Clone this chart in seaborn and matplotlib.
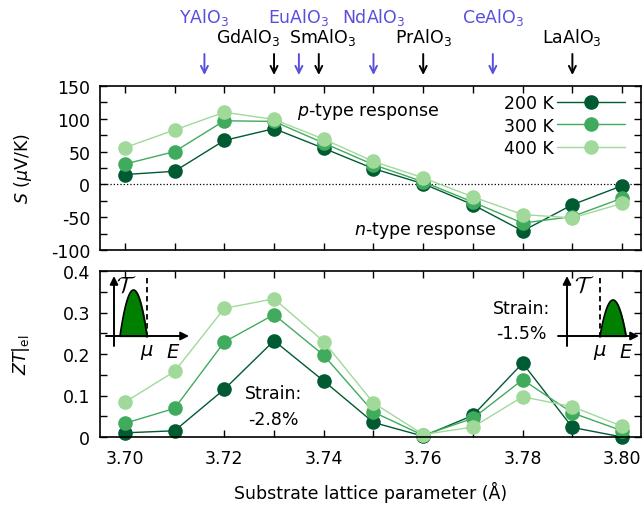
import numpy as np
import pandas as pd
import matplotlib
matplotlib.use("Agg")
import matplotlib.pyplot as plt
from matplotlib.ticker import MultipleLocator, FuncFormatter
import seaborn as sns

# substrate lattice parameter (Å)
lattice = [3.70, 3.71, 3.72, 3.73, 3.74, 3.75, 3.76, 3.77, 3.78, 3.79, 3.80]
temps = ['200 K', '300 K', '400 K']

# Seebeck coefficient (uV/K)
S_200 = [15, 20, 67, 85, 55, 24, 1, -31, -71, -31, -2]
S_300 = [31, 50, 97, 96, 63, 30, 4, -27, -59, -49, -21]
S_400 = [56, 83, 110, 99, 69, 35, 10, -19, -46, -51, -29]

# electronic figure of merit
ZT_200 = [0.010, 0.015, 0.115, 0.232, 0.135, 0.035, 0.002, 0.052, 0.178, 0.023, 0.0]
ZT_300 = [0.033, 0.069, 0.229, 0.295, 0.197, 0.060, 0.004, 0.045, 0.138, 0.058, 0.015]
ZT_400 = [0.084, 0.158, 0.310, 0.333, 0.230, 0.082, 0.006, 0.024, 0.097, 0.073, 0.026]

# substrates marked above the plot
blue_names = ['YAlO$_3$', 'EuAlO$_3$', 'NdAlO$_3$', 'CeAlO$_3$']
blue_a = [3.716, 3.735, 3.750, 3.774]
black_names = ['GdAlO$_3$', 'SmAlO$_3$', 'PrAlO$_3$', 'LaAlO$_3$']
black_a = [3.730, 3.739, 3.760, 3.790]
black_label_shift = [-0.0052, 0.0008, 0.0, -0.0002]

colors = ['#005a32', '#41ab5d', '#a1d99b']
blue = '#5a4fdc'

df = pd.DataFrame({
    'a': lattice * 3,
    'T': [t for t in temps for _ in lattice],
    'S': S_200 + S_300 + S_400,
    'ZT': ZT_200 + ZT_300 + ZT_400,
})

sns.set_style('ticks')
plt.rcParams['font.family'] = ['DejaVu Sans']
plt.rcParams['font.size'] = 12.5
plt.rcParams['mathtext.fontset'] = 'dejavusans'
plt.rcParams['axes.unicode_minus'] = False
for k in ('text.color', 'axes.labelcolor', 'xtick.color', 'ytick.color', 'axes.edgecolor'):
    plt.rcParams[k] = 'black'

fig = plt.figure(figsize=(6.44, 5.10), dpi=100)
W, H = 644, 510
ax1 = fig.add_axes([100 / W, 1 - 251 / H, 541 / W, 164 / H])
ax2 = fig.add_axes([100 / W, 1 - 438 / H, 541 / W, 166 / H])

line_kw = dict(marker='o', markersize=10.5, markeredgewidth=0, lw=1.0, clip_on=False, legend=False)
sns.lineplot(data=df, x='a', y='S', hue='T', palette=colors, ax=ax1, **line_kw)
sns.lineplot(data=df, x='a', y='ZT', hue='T', palette=colors, ax=ax2, **line_kw)

ax1.legend(ax1.lines[:3], temps, loc='upper right', bbox_to_anchor=(0.97, 0.95),
           markerfirst=False, frameon=False, handlelength=3.9, handletextpad=0.2,
           labelspacing=0.25, borderpad=0, borderaxespad=0, fontsize=12.5)
ax1.axhline(0, color='k', ls=':', lw=0.9, zorder=0)

for ax in (ax1, ax2):
    ax.set_xlim(3.695, 3.8038)
    ax.xaxis.set_major_locator(MultipleLocator(0.02))
    ax.xaxis.set_minor_locator(MultipleLocator(0.01))
    ax.tick_params(which='both', direction='in', top=True, right=True, length=5, width=1)
    ax.tick_params(axis='x', pad=9)
    ax.tick_params(axis='y', pad=7)
    for sp in ax.spines.values():
        sp.set_linewidth(1.2)

ax1.set_ylim(-100, 150)
ax1.yaxis.set_major_locator(MultipleLocator(50))
ax1.yaxis.set_minor_locator(MultipleLocator(25))
ax1.tick_params(axis='x', labelbottom=False)
ax1.set_xlabel('')
ax1.set_ylabel('$S$ ($\\mu$V/K)')
ax1.yaxis.set_label_coords(-0.122, 0.5)

ax2.set_ylim(0, 0.4)
ax2.yaxis.set_major_locator(MultipleLocator(0.1))
ax2.yaxis.set_minor_locator(MultipleLocator(0.05))
ax2.yaxis.set_major_formatter(FuncFormatter(lambda v, p: '0' if abs(v) < 1e-9 else f'{v:.1f}'))
ax2.xaxis.set_major_formatter(FuncFormatter(lambda v, p: f'{v:.2f}'))
ax2.set_ylabel('$ZT|_{\\rm el}$')
ax2.yaxis.set_label_coords(-0.125, 0.5)
ax2.set_xlabel('Substrate lattice parameter (Å)')
ax2.xaxis.set_label_coords(0.5, -0.265)

ax1.text(3.749, 113, '$p$-type response', ha='center', va='center')
ax1.text(3.7604, -68, '$n$-type response', ha='center', va='center')
ax2.text(3.7299, 0.107, 'Strain:', ha='center', va='center')
ax2.text(3.7299, 0.043, '-2.8%', ha='center', va='center')
ax2.text(3.7798, 0.311, 'Strain:', ha='center', va='center')
ax2.text(3.7798, 0.250, '-1.5%', ha='center', va='center')

# substrate markers above the top panel
for names, pos, shifts, col, ty in ((blue_names, blue_a, [0] * 4, blue, 17),
                                    (black_names, black_a, black_label_shift, 'k', 38)):
    for name, a, dx in zip(names, pos, shifts):
        ax1.annotate('', xy=(a, 1 - 76 / H), xytext=(a, 1 - 55 / H),
                     xycoords=('data', 'figure fraction'), textcoords=('data', 'figure fraction'),
                     arrowprops=dict(arrowstyle='->', color=col, lw=1.4, shrinkA=0, shrinkB=0),
                     annotation_clip=False)
        ax1.annotate(name, xy=(a + dx, 1 - ty / H), xycoords=('data', 'figure fraction'),
                     ha='center', va='center', color=col, annotation_clip=False)

# schematic transmission insets (figure pixel coordinates)
ov = fig.add_axes([0, 0, 1, 1])
ov.set_xlim(0, W)
ov.set_ylim(H, 0)
ov.axis('off')


def inset(x0, x1, xv, xmu, h0, h1, hh, tx):
    arr = dict(arrowstyle='-|>', color='k', lw=1.4, mutation_scale=12, shrinkA=0, shrinkB=0)
    ov.annotate('', xy=(x1, 337), xytext=(x0, 337), arrowprops=arr)
    ov.annotate('', xy=(xv, 277), xytext=(xv, 347), arrowprops=arr)
    ov.plot([xmu, xmu], [279, 340], color='k', ls=(0, (3, 2)), lw=1.3)
    t = np.linspace(0, 1, 80)
    xs = h0 + (h1 - h0) * t
    ys = 337 - hh * (1 - (2 * t - 1) ** 2)
    ov.fill_between(xs, 337, ys, color='#008000', zorder=2)
    ov.plot(xs, ys, color='k', lw=1.2, zorder=3)
    ov.text(tx, 286, '$\\mathcal{T}$', ha='center', va='center', fontsize=16, math_fontfamily='cm')
    ov.text(xmu, 353, '$\\mu$', ha='center', va='center', fontsize=14)
    ov.text(xmu + 26, 353, '$E$', ha='center', va='center', fontsize=14)


inset(106, 189, 114, 147, 120, 147, 46, 126)
inset(558, 639, 567, 600, 600, 626, 36, 584)

fig.savefig('out.png', dpi=100)
